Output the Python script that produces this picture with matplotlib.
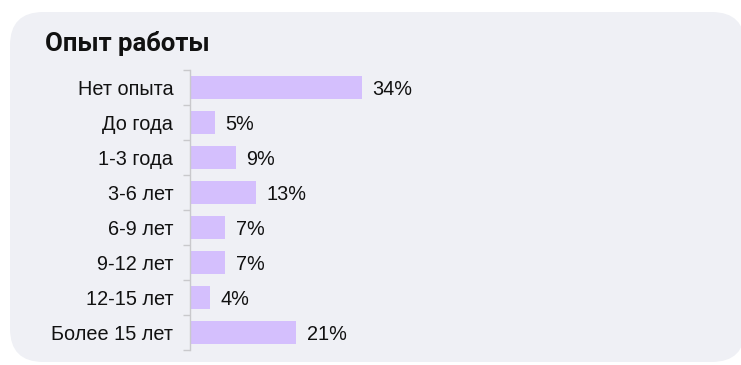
import matplotlib
matplotlib.use("Agg")
import matplotlib.pyplot as plt
from matplotlib.patches import FancyBboxPatch
import numpy as np

categories = ["Нет опыта", "До года", "1-3 года", "3-6 лет", "6-9 лет",
              "9-12 лет", "12-15 лет", "Более 15 лет"]
values = [34, 5, 9, 13, 7, 7, 4, 21]
value_labels = ["34%", "5%", "9%", "13%", "7%", "7%", "4%", "21%"]
title = "Опыт работы"

W, H, DPI = 741, 365, 100
fig = plt.figure(figsize=(W / DPI, H / DPI), dpi=DPI)
fig.patch.set_facecolor("white")

# rounded card behind the chart
card = FancyBboxPatch((10 / W, 3 / H), 735 / W, 350 / H,
                      boxstyle="round,pad=0,rounding_size=0.045",
                      mutation_aspect=W / H,
                      transform=fig.transFigure, facecolor="#eff0f5",
                      edgecolor="none", zorder=-5)
fig.patches.append(card)

fig.text(45 / W, 1 - 43 / H, title, family="Roboto", weight="bold",
         fontsize=18.5, color="#111111", va="center", ha="left")

ax_left, ax_right = 190, 700
ax_top, ax_bottom = 70, 350
ax = fig.add_axes([ax_left / W, 1 - ax_bottom / H,
                   (ax_right - ax_left) / W, (ax_bottom - ax_top) / H])
ax.set_facecolor("none")
ax.set_zorder(2)

px_per_unit = 5.06
y = np.arange(len(categories))
ax.barh(y, values, height=0.66, color="#d4bffd", edgecolor="none", zorder=2)
ax.set_xlim(0, (ax_right - ax_left) / px_per_unit)
ax.set_ylim(len(categories) - 0.5, -0.5)

for yi, v, lab in zip(y, values, value_labels):
    ax.annotate(lab, (v, yi), xytext=(7.5, -1.2), textcoords="offset points",
                va="center", ha="left", fontsize=14.3,
                family="Liberation Sans", color="#111111")

for s in ["top", "right", "bottom"]:
    ax.spines[s].set_visible(False)
ax.spines["left"].set_color("#c9c9cc")
ax.spines["left"].set_linewidth(1)

ax.set_xticks([])
ax.set_yticks(y)
ax.set_yticklabels(categories, family="Liberation Sans", fontsize=14.3,
                   color="#111111")
ax.tick_params(axis="y", which="major", length=0, pad=12)
ax.set_yticks(np.arange(-0.5, len(categories) + 0.5, 1), minor=True)
ax.tick_params(axis="y", which="minor", length=5, color="#c9c9cc", width=1)

fig.savefig("out.png", dpi=DPI)
